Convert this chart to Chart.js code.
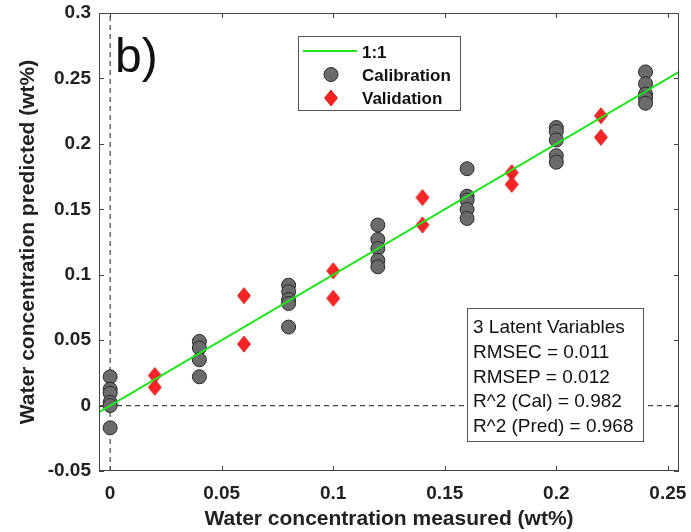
<!DOCTYPE html>
<html>
<head>
<meta charset="utf-8">
<script src="https://cdn.jsdelivr.net/npm/chart.js@4.4.0/dist/chart.umd.min.js"></script>
<style>
html, body { margin: 0; padding: 0; background: #fff; }
canvas { display: block; }
</style>
</head>
<body>
<canvas id="myChart" width="691" height="532"></canvas>
<script>
// calibration samples: measured level and predicted values (wt%)
var cal_measured = [0, 0.04, 0.08, 0.12, 0.16, 0.2, 0.24];
var cal_predicted = [
	[0.022, 0.0125, 0.0095, 0.0025, 0.0, -0.017],
	[0.049, 0.044, 0.035, 0.022],
	[0.092, 0.087, 0.081, 0.078, 0.060],
	[0.138, 0.127, 0.120, 0.111, 0.106],
	[0.181, 0.160, 0.157, 0.150, 0.143],
	[0.2125, 0.2095, 0.203, 0.191, 0.186],
	[0.255, 0.246, 0.238, 0.235, 0.231]
];
// validation samples
var val_measured = [0.02, 0.06, 0.1, 0.14, 0.18, 0.22];
var val_predicted = [
	[0.023, 0.014],
	[0.084, 0.047],
	[0.103, 0.082],
	[0.159, 0.138],
	[0.178, 0.169],
	[0.2215, 0.205]
];
// 1:1 line ends and axis ranges
var line_ends = [-0.005, 0.255];
var x_range = [-0.005, 0.255];
var y_range = [-0.05, 0.3];
var x_ticks = [0, 0.05, 0.1, 0.15, 0.2, 0.25];
var y_ticks = [-0.05, 0, 0.05, 0.1, 0.15, 0.2, 0.25, 0.3];
var stats_lines = ['3 Latent Variables', 'RMSEC = 0.011', 'RMSEP = 0.012', 'R^2 (Cal) = 0.982', 'R^2 (Pred) = 0.968'];
var legend_labels = ['1:1', 'Calibration', 'Validation'];

var FONT = '"Liberation Sans", Arial, sans-serif';

// build point lists
var cal_pts = [];
for (var i = 0; i < cal_measured.length; i++) {
	for (var j = 0; j < cal_predicted[i].length; j++) cal_pts.push({x: cal_measured[i], y: cal_predicted[i][j]});
}
var val_pts = [];
for (var i = 0; i < val_measured.length; i++) {
	for (var j = 0; j < val_predicted[i].length; j++) val_pts.push({x: val_measured[i], y: val_predicted[i][j]});
}

// diamond marker (matlab style, taller than wide)
var diamond = document.createElement('canvas');
diamond.width = 16; diamond.height = 18;
var dctx = diamond.getContext('2d');
dctx.beginPath();
dctx.moveTo(8, 1); dctx.lineTo(14.5, 9); dctx.lineTo(8, 17); dctx.lineTo(1.5, 9); dctx.closePath();
dctx.fillStyle = '#fb2424'; dctx.fill();
dctx.strokeStyle = '#c41212'; dctx.lineWidth = 0.8; dctx.stroke();

var CIRCLE_FILL = '#6b6b6b', CIRCLE_EDGE = '#2a2a2a', GREEN = '#1ee41e';

function fmt(v) { return String(Number(v.toFixed(3))); }

/* frame, inner ticks, legend, text boxes */
var overlay = {
	id: 'overlay',
	afterDatasetsDraw: function(chart) {
		var ctx = chart.ctx, a = chart.chartArea;
		var xs = chart.scales.x, ys = chart.scales.y;
		ctx.save();

		// stats box
		ctx.fillStyle = '#fff';
		ctx.fillRect(467, 308, 177, 134);
		ctx.strokeStyle = '#555'; ctx.lineWidth = 1;
		ctx.strokeRect(467.5, 308.5, 176, 133);
		ctx.fillStyle = '#111';
		ctx.font = '19px ' + FONT;
		ctx.textAlign = 'left'; ctx.textBaseline = 'alphabetic';
		for (var k = 0; k < stats_lines.length; k++) ctx.fillText(stats_lines[k], 473, 333 + k * 24.8);

		// "b)"
		ctx.font = '48px ' + FONT;
		ctx.fillText('b)', 115, 72);

		// legend
		ctx.fillStyle = '#fff';
		ctx.fillRect(298, 36, 162, 74);
		ctx.strokeRect(298.5, 36.5, 162, 74);
		ctx.strokeStyle = GREEN; ctx.lineWidth = 2;
		ctx.beginPath(); ctx.moveTo(303, 51); ctx.lineTo(357, 51); ctx.stroke();
		ctx.beginPath(); ctx.arc(331, 74.5, 7, 0, Math.PI * 2);
		ctx.fillStyle = CIRCLE_FILL; ctx.fill();
		ctx.strokeStyle = CIRCLE_EDGE; ctx.lineWidth = 1; ctx.stroke();
		ctx.drawImage(diamond, 331 - 8, 98 - 9);
		ctx.fillStyle = '#111';
		ctx.font = 'bold 17px ' + FONT;
		ctx.fillText(legend_labels[0], 362, 57.5);
		ctx.fillText(legend_labels[1], 362, 81);
		ctx.fillText(legend_labels[2], 362, 104);

		// axes frame
		ctx.strokeStyle = '#444'; ctx.lineWidth = 1;
		ctx.strokeRect(a.left + 0.5, a.top + 0.5, a.right - a.left - 1, a.bottom - a.top - 1);
		// inner ticks
		ctx.beginPath();
		x_ticks.forEach(function(v) {
			var p = Math.round(xs.getPixelForValue(v)) + 0.5;
			ctx.moveTo(p, a.bottom); ctx.lineTo(p, a.bottom - 5);
			ctx.moveTo(p, a.top); ctx.lineTo(p, a.top + 5);
		});
		y_ticks.forEach(function(v) {
			var p = Math.round(ys.getPixelForValue(v)) + 0.5;
			ctx.moveTo(a.left, p); ctx.lineTo(a.left + 5, p);
			ctx.moveTo(a.right, p); ctx.lineTo(a.right - 5, p);
		});
		ctx.stroke();
		ctx.restore();
	}
};

var ctx = document.getElementById('myChart').getContext('2d');
var myChart = new Chart(ctx, {
	type: 'scatter',
	data: {
		datasets: [
			{	// x = 0 dashed
				data: [{x: 0, y: y_range[0]}, {x: 0, y: y_range[1]}],
				showLine: true, borderColor: '#444', borderWidth: 1.2, borderDash: [5, 4],
				pointRadius: 0, order: 5
			}, {	// y = 0 dashed
				data: [{x: x_range[0], y: 0}, {x: x_range[1], y: 0}],
				showLine: true, borderColor: '#444', borderWidth: 1.2, borderDash: [5, 4],
				pointRadius: 0, order: 5
			}, {
				label: legend_labels[1],
				data: cal_pts,
				pointStyle: 'circle', pointRadius: 7,
				backgroundColor: CIRCLE_FILL, borderColor: CIRCLE_EDGE, borderWidth: 1,
				order: 3
			}, {
				label: legend_labels[2],
				data: val_pts,
				pointStyle: diamond, pointRadius: 8,
				order: 2
			}, {
				label: legend_labels[0],
				data: [{x: line_ends[0], y: line_ends[0]}, {x: line_ends[1], y: line_ends[1]}],
				showLine: true, borderColor: GREEN, borderWidth: 2, pointRadius: 0,
				order: 1
			}
		]
	},
	options: {
		responsive: false,
		animation: false,
		devicePixelRatio: 1,
		events: [],
		layout: { padding: { left: 0, top: 13, right: 12, bottom: 0 } },
		plugins: { legend: { display: false }, tooltip: { enabled: false } },
		scales: {
			x: {
				type: 'linear', min: x_range[0], max: x_range[1],
				afterFit: function(s) { s.height = 61; s.paddingLeft = 0; s.paddingRight = 0; },
				afterBuildTicks: function(s) { s.ticks = x_ticks.map(function(v) { return {value: v}; }); },
				grid: { display: false, drawTicks: false },
				border: { display: false },
				ticks: { padding: 11, color: '#222', font: { family: FONT, size: 19, weight: 'bold' }, callback: function(v) { return fmt(v); } },
				title: { display: true, text: 'Water concentration measured (wt%)', color: '#222', padding: { top: 0, bottom: 0 }, font: { family: FONT, size: 21, weight: 'bold' } }
			},
			y: {
				type: 'linear', min: y_range[0], max: y_range[1],
				afterFit: function(s) { s.width = 99; s.paddingTop = 0; s.paddingBottom = 0; },
				afterBuildTicks: function(s) { s.ticks = y_ticks.map(function(v) { return {value: v}; }); },
				grid: { display: false, drawTicks: false },
				border: { display: false },
				ticks: { padding: 8, color: '#222', font: { family: FONT, size: 19, weight: 'bold' }, callback: function(v) { return fmt(v); } },
				title: { display: true, text: 'Water concentration predicted (wt%)', color: '#222', padding: { top: 16, bottom: 0 }, font: { family: FONT, size: 21, weight: 'bold' } }
			}
		}
	},
	plugins: [overlay]
});
</script>
</body>
</html>
